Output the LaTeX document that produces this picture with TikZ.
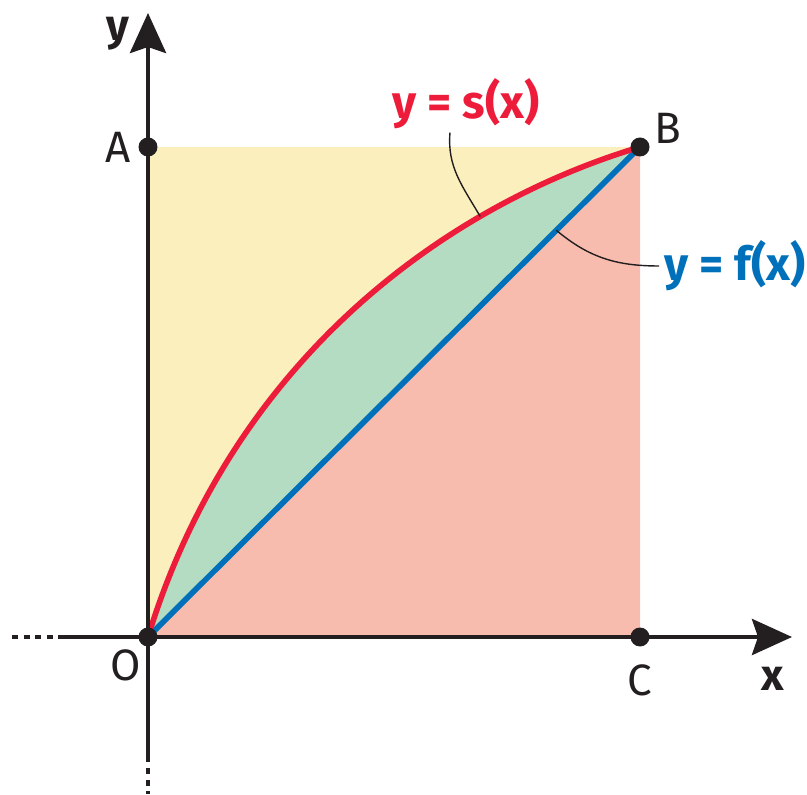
\documentclass[tikz,border=0pt]{standalone}
\usepackage{fontspec}
\setmainfont{Fira Sans}
\usetikzlibrary{arrows.meta, positioning, calc}
\definecolor{cYellow}{RGB}{252,239,190}
\definecolor{cPink}{RGB}{248,188,174}
\definecolor{cGreen}{RGB}{180,220,194}
\definecolor{cRed}{RGB}{237,28,58}
\definecolor{cBlue}{RGB}{0,112,186}
\definecolor{cInk}{RGB}{35,31,32}
\tikzset{
	axis/.style     ={cInk, line width=2.5pt, -{Stealth[length=0.8cm, width=0.72cm, inset=0.12cm]}},
	axisdots/.style ={cInk, line width=2.5pt, dash pattern=on 0.12cm off 0.114cm},
	dot/.style      ={circle, fill=cInk, inner sep=0pt, minimum size=0.38cm},
	ptlabel/.style  ={font=\fontsize{25}{27}\selectfont, text=cInk, inner sep=0pt},
	axlabel/.style  ={font=\fontsize{25}{27}\selectfont\bfseries, text=cInk, inner sep=0pt},
	graphline/.style={line width=3.2pt},
	leader/.style   ={cInk, line width=0.8pt},
	fnlabel/.style  ={font=\fontsize{26.5}{28}\selectfont\bfseries, inner sep=0pt},
}
\begin{document}
\begin{tikzpicture}[x=0.02cm, y=0.02cm]
	\useasboundingbox (-148,-157) rectangle (659,637);
	% corners of the square
	\coordinate (O) at (0,0);
	\coordinate (A) at (0,490);
	\coordinate (B) at (492,490);
	\coordinate (C) at (492,0);
	% areas
	\fill[cYellow] (O) rectangle (B);
	\fill[cPink] (O) -- (C) -- (B) -- cycle;
	\fill[cGreen] (O) .. controls (84,275) and (295,431) .. (B) -- cycle;
	% graphs
	\draw[graphline, cBlue] (O) -- (B) coordinate[pos=0.83] (fpt);
	\draw[graphline, cRed] (O) .. controls (84,275) and (295,431) .. (B) coordinate[pos=0.73] (spt);
	% axes
	\draw[axisdots] (-136,0) -- (-90,0);
	\draw[axis] (-90,0) -- (644,0);
	\draw[axisdots] (0,-131) -- (0,-157);
	\draw[axis] (0,-125) -- (0,624);
	\node[axlabel] (xlab) at (625,-42) {x};
	\node[axlabel] (ylab) at (-30,603) {y};
	% points
	\foreach \p in {O,A,B,C}
	\node[dot] (d\p) at (\p) {};
	\node[ptlabel] (lA) at (-30,490) {A};
	\node[ptlabel] (lB) at (520,509) {B};
	\node[ptlabel] (lC) at (492,-43) {C};
	\node[ptlabel] (lO) at (-22,-28) {O};
	% function labels
	\node[fnlabel, text=cRed] (slab) at (318,533) {y = s(x)};
	\node[fnlabel, text=cBlue] (flab) at (587,371) {y = f(x)};
	\draw[leader] ([xshift=-0.32cm, yshift=-0.06cm]slab.south) to[out=-95, in=120] (spt);
	\draw[leader] (fpt) to[out=-40, in=180] ([xshift=-0.1cm]flab.west);
\end{tikzpicture}
\end{document}
